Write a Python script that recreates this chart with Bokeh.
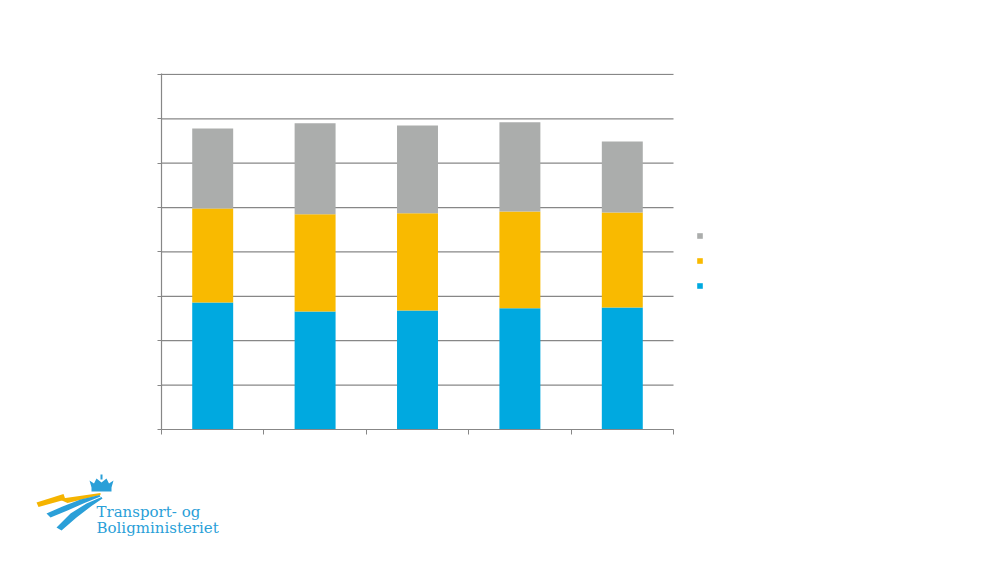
from bokeh.plotting import figure
from bokeh.layouts import column
from bokeh.models import Range1d, FixedTicker, Legend, LegendItem
from bokeh.core.properties import value
from bokeh.embed import file_html
from bokeh.resources import INLINE

# ---- data ----
categories = ["1", "2", "3", "4", "5"]
series_names = ["blue", "yellow", "gray"]
blue_vals = [2.86, 2.66, 2.68, 2.73, 2.75]
yellow_vals = [2.12, 2.19, 2.19, 2.18, 2.14]
gray_vals = [1.80, 2.05, 1.98, 2.01, 1.60]
colors = ["#00A9E0", "#F9BA00", "#ABADAC"]
y_ticks = [0, 1, 2, 3, 4, 5, 6, 7, 8]
logo_lines = ["Transport- og", "Boligministeriet"]

n = len(categories)
xs = [i + 0.5 for i in range(n)]
data = dict(x=xs, blue=blue_vals, yellow=yellow_vals, gray=gray_vals)

# frame extends to the right so the legend sits inside it; the chart area is x in [0, n]
p = figure(width=1000, height=460, output_backend="svg", toolbar_location=None,
           x_range=Range1d(0, n + 88 / 102.4), y_range=Range1d(0, 8.02),
           min_border_left=161, min_border_right=239, min_border_top=73, min_border_bottom=31)
p.frame_align = False
p.outline_line_color = None
p.background_fill_color = "white"
p.border_fill_color = "white"

grid_col = "#878787"
p.grid.visible = False
p.segment(x0=[0] * len(y_ticks), x1=[n] * len(y_ticks), y0=y_ticks, y1=y_ticks,
          line_color=grid_col, line_width=1.2)

renderers = p.vbar_stack(series_names, x="x", width=0.4, source=data, color=colors, line_color=None)

p.yaxis.ticker = FixedTicker(ticks=y_ticks)
p.yaxis.axis_line_color = grid_col
p.yaxis.axis_line_width = 1.2
p.yaxis.major_tick_line_color = grid_col
p.yaxis.major_tick_out = 4
p.yaxis.major_tick_in = 0
p.yaxis.minor_tick_line_color = None
p.yaxis.major_label_text_color = "white"
p.yaxis.major_label_text_font_size = "11px"

p.xaxis.ticker = FixedTicker(ticks=list(range(n + 1)))
p.xaxis.bounds = (0, n)
p.xaxis.axis_line_color = grid_col
p.xaxis.axis_line_width = 1.2
p.xaxis.major_tick_line_color = grid_col
p.xaxis.major_tick_out = 5
p.xaxis.major_tick_in = 0
p.xaxis.minor_tick_line_color = None
p.xaxis.major_label_text_color = "white"
p.xaxis.major_label_text_font_size = "11px"

items = [LegendItem(label=value(series_names[i]), renderers=[renderers[i]]) for i in (2, 1, 0)]
legend = Legend(items=items, location=(535, 138), padding=0, margin=0,
                glyph_width=7, glyph_height=7, label_height=12,
                label_text_font_size="10px", label_text_color="white", spacing=13,
                border_line_color=None, background_fill_color=None)
p.add_layout(legend, "center")

# ---- logo strip (page y 460..563) ----
q = figure(width=1000, height=103, output_backend="svg", toolbar_location=None,
           x_range=Range1d(0, 1000), y_range=Range1d(563, 460),
           x_axis_type=None, y_axis_type=None, min_border=0)
q.frame_align = False
q.outline_line_color = None
q.grid.visible = False
q.background_fill_color = "white"
q.border_fill_color = "white"

logo_blue = "#2A9FD8"
logo_yellow = "#F5B400"

boltL_x = [36, 63, 65, 38]
boltL_y = [502, 493.5, 499, 506.5]
boltR_x = [58, 100, 100, 67]
boltR_y = [498.5, 492.5, 494.5, 502.5]
sw1_x = [99, 80, 62, 46, 50, 67, 84, 100]
sw1_y = [494.5, 499, 506, 513, 517, 510, 502.5, 496]
sw2_x = [101, 86, 70, 56, 61, 76, 91, 102]
sw2_y = [496.5, 503, 513, 527, 530, 517, 505.5, 498]
crown_x = [91, 111, 111, 113, 108.5, 106, 101, 96, 93.5, 89, 91]
crown_y = [491, 491, 487, 480, 483, 478, 482, 478, 483, 480, 487]
cross_x = [100, 102, 102, 100]
cross_y = [474, 474, 479, 479]

q.patches(xs=[boltL_x, boltR_x], ys=[boltL_y, boltR_y], fill_color=logo_yellow, line_color=None)
q.patches(xs=[sw1_x, sw2_x, crown_x, cross_x], ys=[sw1_y, sw2_y, crown_y, cross_y],
          fill_color=logo_blue, line_color=None)
q.text(x=[96, 96], y=[511, 527], text=logo_lines, text_font=value("DejaVu Serif"),
       text_font_size="15px", text_color=logo_blue, text_baseline="alphabetic")

open("out.html", "w").write(file_html(column(p, q, spacing=0), INLINE))
